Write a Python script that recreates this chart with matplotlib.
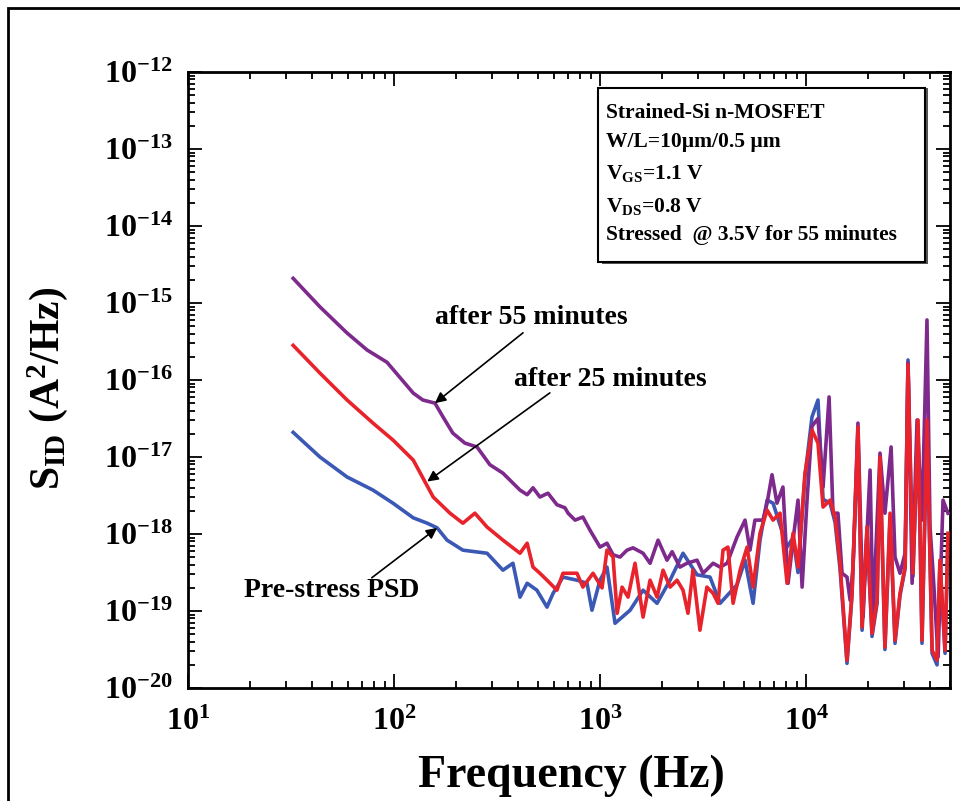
import matplotlib
matplotlib.use("Agg")
import numpy as np
import matplotlib.pyplot as plt
from matplotlib.ticker import LogLocator, NullFormatter, LogFormatterSciNotation
from matplotlib.patches import Rectangle

plt.rcParams['font.family'] = 'Liberation Serif'
plt.rcParams['font.weight'] = 'bold'
plt.rcParams['mathtext.fontset'] = 'custom'
plt.rcParams['mathtext.rm'] = 'Liberation Serif:bold'
plt.rcParams['mathtext.it'] = 'Liberation Serif:bold'
plt.rcParams['mathtext.bf'] = 'Liberation Serif:bold'
plt.rcParams['mathtext.default'] = 'rm'
plt.rcParams['axes.unicode_minus'] = False

# after 55 minutes (purple) - freq in Hz, log10 of PSD in A^2/Hz
f_55 = [32.4, 43.7, 59.2, 74.0, 92.5, 124, 138, 158, 173, 193, 221, 253, 292, 338, 409, 443,
        473, 511, 559, 618, 676, 700, 757, 826, 894, 1000, 1081, 1157, 1251, 1352, 1446, 1618,
        1750, 1914, 2115, 2239, 2443, 2643, 2958, 3162, 3540, 3828, 4140, 4624, 5058, 5346,
        5649, 6180, 6471, 6839, 7228, 7727, 8185, 8650, 9145, 9572, 10116, 10690, 11430,
        12100, 12940, 13520, 14290, 14960, 15810, 16370, 16910, 17870, 18920, 19770, 20460,
        21140, 22860, 24160, 25880, 27040, 28590, 30270, 31260, 32730, 34590, 36560, 38650,
        39990, 41390, 43750, 46240, 48870]
s_55 = [-14.68, -15.05, -15.39, -15.61, -15.77, -16.17, -16.26, -16.30, -16.48, -16.69, -16.82,
        -16.87, -17.10, -17.21, -17.43, -17.49, -17.40, -17.52, -17.47, -17.62, -17.66, -17.73,
        -17.82, -17.78, -17.95, -18.17, -18.12, -18.27, -18.30, -18.21, -18.18, -18.25, -18.38,
        -18.08, -18.34, -18.23, -18.43, -18.38, -18.34, -18.51, -18.38, -18.43, -18.38, -18.04,
        -17.82, -18.21, -17.82, -17.82, -17.60, -17.23, -17.60, -17.39, -18.64, -18.08, -17.56,
        -18.69, -17.56, -16.60, -16.50, -17.39, -16.22, -17.73, -17.73, -18.51, -18.56, -18.86,
        -18.43, -16.56, -19.08, -17.99, -17.17, -19.08, -16.95, -17.73, -16.87, -18.30, -18.51,
        -18.25, -15.78, -18.64, -16.52, -17.82, -15.22, -17.91, -18.51, -19.60, -17.56, -17.73]

# after 25 minutes (red)
f_25 = [32.4, 43.7, 59.2, 79.1, 98.9, 124, 138, 155, 187, 216, 247, 283, 338, 409, 443, 473,
        511, 553, 618, 661, 773, 826, 925, 1023, 1081, 1157, 1211, 1280, 1368, 1479, 1618, 1750,
        1892, 2023, 2188, 2366, 2529, 2673, 2825, 3055, 3304, 3540, 3741, 3954, 4178, 4426,
        4786, 5176, 5534, 5980, 6471, 6918, 7480, 8091, 8650, 9145, 9886, 10690, 11430, 12100,
        13090, 13840, 14620, 15810, 16720, 17870, 18710, 19770, 20910, 22130, 22860, 24160,
        25580, 27040, 28590, 30270, 31260, 33040, 34990, 36560, 38650, 40920, 43250, 44670,
        47310, 48870]
s_25 = [-15.55, -15.91, -16.26, -16.56, -16.78, -17.04, -17.27, -17.52, -17.73, -17.86, -17.73,
        -17.91, -18.08, -18.25, -18.12, -18.43, -18.51, -18.60, -18.73, -18.51, -18.51, -18.69,
        -18.51, -18.70, -18.21, -18.30, -19.03, -18.69, -18.82, -18.38, -19.08, -18.60, -18.82,
        -18.47, -18.69, -18.60, -18.73, -19.03, -18.47, -19.25, -18.69, -18.77, -18.90, -18.21,
        -18.17, -18.90, -18.47, -18.17, -18.69, -17.99, -17.69, -17.82, -17.73, -18.64, -17.99,
        -18.43, -17.21, -16.65, -16.82, -17.65, -17.56, -17.78, -18.38, -19.64, -18.77, -16.61,
        -19.21, -17.91, -19.29, -18.86, -17.00, -19.47, -17.73, -19.38, -18.77, -18.43, -15.80,
        -18.51, -16.52, -19.38, -16.52, -19.51, -19.64, -18.34, -19.51, -17.99]

# pre-stress (blue)
f_pre = [32.4, 43.7, 59.2, 79.1, 98.9, 124, 145, 162, 181, 216, 283, 338, 378, 409, 443, 494,
         553, 592, 661, 773, 865, 914, 1000, 1081, 1183, 1400, 1618, 1892, 2188, 2529, 2958,
         3420, 3828, 4624, 5058, 5534, 5980, 6471, 6918, 8091, 8650, 9145, 9886, 10690, 11430,
         12100, 13090, 13840, 14620, 15810, 16720, 17870, 18710, 19770, 20910, 22130, 22860,
         24160, 25580, 27040, 28590, 30270, 31260, 33040, 34990, 36560, 38650, 40920, 43250,
         44670, 47310, 48870]
s_pre = [-16.68, -17.00, -17.26, -17.43, -17.60, -17.79, -17.86, -17.92, -18.08, -18.21, -18.25,
         -18.47, -18.38, -18.82, -18.64, -18.73, -18.95, -18.77, -18.56, -18.60, -18.64, -18.99,
         -18.60, -18.43, -19.16, -18.99, -18.73, -18.90, -18.60, -18.25, -18.53, -18.56, -18.90,
         -18.66, -18.34, -18.90, -18.08, -17.56, -17.60, -18.17, -18.05, -18.50, -17.25, -16.48,
         -16.26, -17.55, -17.60, -17.85, -18.45, -19.68, -18.80, -16.70, -19.25, -17.95, -19.33,
         -18.90, -17.05, -19.50, -17.80, -19.42, -18.80, -18.45, -15.74, -18.55, -16.60, -19.42,
         -16.60, -19.55, -19.70, -18.38, -19.55, -18.05]

x_decades = [1e1, 1e2, 1e3, 1e4]
y_decades = [1e-20, 1e-19, 1e-18, 1e-17, 1e-16, 1e-15, 1e-14, 1e-13, 1e-12]

info_lines = ['Strained-Si n-MOSFET', 'W/L=10\u00b5m/0.5 \u00b5m', r'V$_{\rm GS}$=1.1 V',
              r'V$_{\rm DS}$=0.8 V', 'Stressed  @ 3.5V for 55 minutes']

fig = plt.figure(figsize=(9.6, 8.01), dpi=100)
ax = fig.add_axes([0.1958, 0.1411, 0.7938, 0.7690])

ax.plot(f_pre, 10.0 ** np.array(s_pre), color='#3a58b4', lw=2.6, zorder=2)
ax.plot(f_55, 10.0 ** np.array(s_55), color='#7e2a8c', lw=2.6, zorder=3)
ax.plot(f_25, 10.0 ** np.array(s_25), color='#e8232b', lw=2.6, zorder=4)

ax.set_xscale('log')
ax.set_yscale('log')
ax.set_xlim(10, 5e4)
ax.set_ylim(1e-20, 1e-12)

ax.set_xticks(x_decades)
ax.set_yticks(y_decades)
ax.xaxis.set_major_formatter(LogFormatterSciNotation())
ax.yaxis.set_major_formatter(LogFormatterSciNotation())
ax.xaxis.set_minor_locator(LogLocator(base=10, subs=np.arange(2, 10), numticks=100))
ax.yaxis.set_minor_locator(LogLocator(base=10, subs=np.arange(2, 10), numticks=100))
ax.xaxis.set_minor_formatter(NullFormatter())
ax.yaxis.set_minor_formatter(NullFormatter())

ax.tick_params(which='both', direction='in', top=True, right=True, width=1.3)
ax.tick_params(which='major', length=10, labelsize=23, pad=11)
ax.tick_params(axis='x', which='major', pad=14)
ax.tick_params(which='minor', length=5)
for sp in ax.spines.values():
    sp.set_linewidth(2.0)

ax.set_xlabel('Frequency (Hz)', fontsize=33, fontweight='bold')
ax.xaxis.set_label_coords(0.503, -0.108)
ax.set_ylabel(r'S$_{\rm ID}$ (A$^{\rm 2}$/Hz)', fontsize=30, fontweight='bold')
ax.yaxis.set_label_coords(-0.155, 0.487)

# annotations
ax.text(0.451, 0.601, 'after 55 minutes', transform=ax.transAxes, fontsize=20,
        ha='center', va='center')
ax.text(0.554, 0.500, 'after 25 minutes', transform=ax.transAxes, fontsize=20,
        ha='center', va='center')
ax.text(0.189, 0.159, 'Pre-stress PSD', transform=ax.transAxes, fontsize=20,
        ha='center', va='center')
arrow = dict(arrowstyle='-|>', color='black', lw=1.2, mutation_scale=16, shrinkA=0, shrinkB=0)
ax.annotate('', xy=(158, 5.0e-17), xytext=(423, 4.1e-16), arrowprops=arrow, zorder=6)
ax.annotate('', xy=(145, 4.8e-18), xytext=(571, 6.8e-17), arrowprops=arrow, zorder=6)
ax.annotate('', xy=(162, 1.2e-18), xytext=(78, 2.7e-19), arrowprops=arrow, zorder=6)

# info box
ax.add_patch(Rectangle((0.543, 0.688), 0.428, 0.286, transform=ax.transAxes,
                       facecolor='#555555', edgecolor='none', zorder=6))
ax.add_patch(Rectangle((0.538, 0.692), 0.429, 0.282, transform=ax.transAxes,
                       facecolor='white', edgecolor='black', lw=1.5, zorder=7))
ys = [0.933, 0.887, 0.836, 0.782, 0.735]
for y, line in zip(ys, info_lines):
    ax.text(0.548, y, line, transform=ax.transAxes, fontsize=15.5, ha='left',
            va='center', zorder=8)

# outer frame
fig.add_artist(Rectangle((8 / 960, -0.05), 1.2, 1 - 8 / 801 + 0.05, transform=fig.transFigure,
                         fill=False, edgecolor='black', lw=2.0))

fig.savefig('out.png', dpi=100, facecolor='white')
